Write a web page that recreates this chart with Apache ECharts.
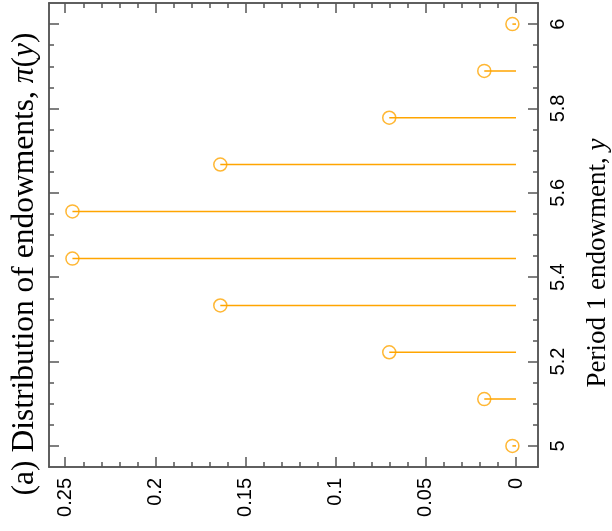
<!DOCTYPE html>
<html>
<head>
<meta charset="utf-8">
<script src="https://cdn.jsdelivr.net/npm/echarts@6/dist/echarts.min.js"></script>
<style>html,body{margin:0;padding:0;background:#fff;}#c{width:612px;height:531px;}</style>
</head>
<body>
<div id="c"></div>
<script>
var endowment = [5, 5.111, 5.222, 5.333, 5.444, 5.556, 5.667, 5.778, 5.889, 6];
var prob = [0.002, 0.0176, 0.0703, 0.164, 0.246, 0.246, 0.164, 0.0703, 0.0176, 0.002];
var probTicks = [0, 0.05, 0.1, 0.15, 0.2, 0.25];
var probMinor = [0,0.01,0.02,0.03,0.04,0.05,0.06,0.07,0.08,0.09,0.1,0.11,0.12,0.13,0.14,0.15,0.16,0.17,0.18,0.19,0.2,0.21,0.22,0.23,0.24,0.25];
var yTicks = [5, 5.2, 5.4, 5.6, 5.8, 6];
var yMinor = [5,5.05,5.1,5.15,5.2,5.25,5.3,5.35,5.4,5.45,5.5,5.55,5.6,5.65,5.7,5.75,5.8,5.85,5.9,5.95,6];
var titleText = '(a) Distribution of endowments, {i|π}({i|y})';
var yTitle = 'Period 1 endowment, {i|y}';

var ORANGE = '#FFA500';
var AX = '#555555';
var XMIN = -0.0122, XMAX = 0.259, YMIN = 4.95, YMAX = 6.05;

function xAx(pos, vals, len, labels) {
  return {
    type: 'value', position: pos, inverse: true, min: XMIN, max: XMAX,
    axisLine: {show: true, onZero: false, lineStyle: {color: AX, width: 1.5}},
    splitLine: {show: false},
    axisTick: {show: true, inside: true, length: len, customValues: vals, lineStyle: {color: AX, width: 1.5}},
    axisLabel: labels ? {show: true, customValues: vals, rotate: 90, margin: 11, color: '#000',
      fontFamily: 'Liberation Sans', fontSize: 20, formatter: function(v){return String(+v.toFixed(4));}} : {show: false}
  };
}
function yAx(pos, vals, len, labels) {
  return {
    type: 'value', position: pos, min: YMIN, max: YMAX,
    axisLine: {show: true, onZero: false, lineStyle: {color: AX, width: 1.5}},
    splitLine: {show: false},
    axisTick: {show: true, inside: true, length: len, customValues: vals, lineStyle: {color: AX, width: 1.5}},
    axisLabel: labels ? {show: true, customValues: vals, rotate: 90, margin: 10, color: '#000',
      fontFamily: 'Liberation Sans', fontSize: 20, formatter: function(v){return String(+v.toFixed(4));}} : {show: false}
  };
}

var chart = echarts.init(document.getElementById('c'), null, {renderer: 'canvas'});
var pts = endowment.map(function(y, i){ return [prob[i], y]; });
chart.setOption({
  animation: false,
  backgroundColor: '#fff',
  grid: {left: 49, right: 74, top: 3, bottom: 64},
  xAxis: [
    xAx('bottom', probTicks, 10, true),
    xAx('bottom', probMinor, 5, false),
    xAx('top', probTicks, 10, false),
    xAx('top', probMinor, 5, false)
  ],
  yAxis: [
    yAx('right', yTicks, 10, true),
    yAx('right', yMinor, 5, false),
    yAx('left', yTicks, 10, false),
    yAx('left', yMinor, 5, false)
  ],
  series: [
    {
      type: 'custom', xAxisIndex: 0, yAxisIndex: 0, data: pts, z: 2,
      renderItem: function(params, api) {
        var a = api.coord([0, api.value(1)]);
        var b = api.coord([api.value(0), api.value(1)]);
        return {type: 'line', shape: {x1: a[0], y1: a[1], x2: b[0], y2: b[1]},
          style: {stroke: ORANGE, lineWidth: 1.5}};
      }
    },
    {
      type: 'scatter', xAxisIndex: 0, yAxisIndex: 0, data: pts, z: 3,
      symbol: 'circle', symbolSize: 13,
      itemStyle: {color: 'rgba(255,255,255,0)', borderColor: ORANGE, borderWidth: 1.5}
    }
  ],
  graphic: [
    {
      type: 'text', x: 25, y: 264, rotation: Math.PI / 2,
      style: {text: titleText, fontFamily: 'Liberation Serif', fontSize: 31.5, fill: '#000',
        align: 'center', verticalAlign: 'middle',
        rich: {i: {fontStyle: 'italic', fontFamily: 'Liberation Serif', fontSize: 31.5}}}
    },
    {
      type: 'text', x: 598, y: 263, rotation: Math.PI / 2,
      style: {text: yTitle, fontFamily: 'Liberation Serif', fontSize: 27, fill: '#000',
        align: 'center', verticalAlign: 'middle',
        rich: {i: {fontStyle: 'italic', fontFamily: 'Liberation Serif', fontSize: 27}}}
    }
  ]
});
</script>
</body>
</html>
